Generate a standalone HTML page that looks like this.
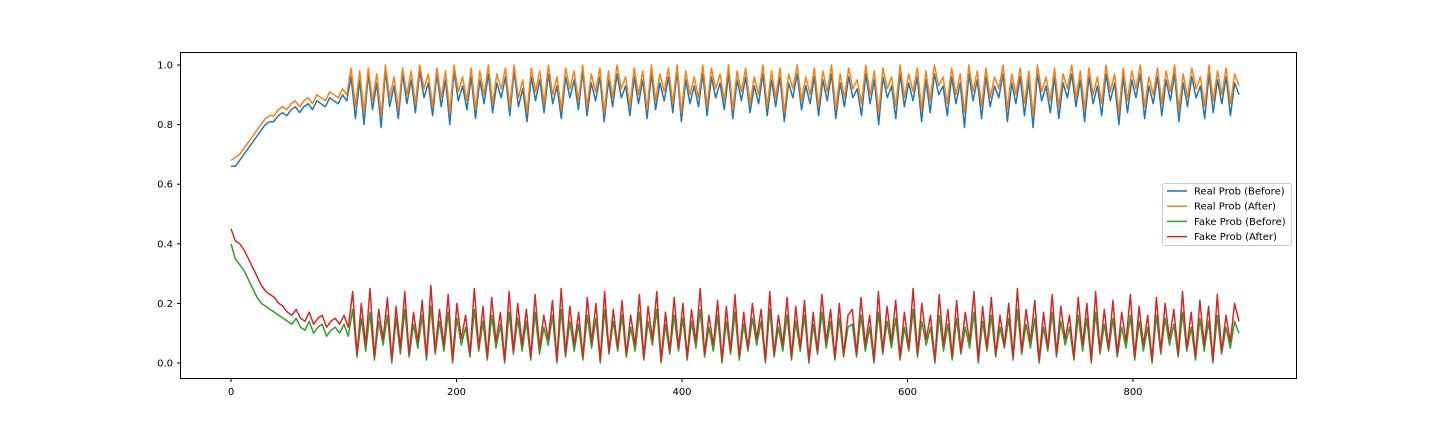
<!DOCTYPE html>
<html><head><meta charset="utf-8"><style>
html,body{margin:0;padding:0;background:#fff;}
svg{display:block;font-family:"DejaVu Sans","Liberation Sans",sans-serif;}
</style></head><body>
<svg id="chart" width="1440" height="432">
<rect x="180.5" y="52.5" width="1116" height="326" fill="none" stroke="#000" stroke-width="1"/>
<g id="ticks"></g>
<g id="lines"></g>
<g id="legend">
<rect x="1162.5" y="183.5" width="129" height="62" rx="2" fill="#fff" fill-opacity="0.8" stroke="#ccc"/>
</g>
</svg>
<script>
const realAfter=[68,69,70,72,74,76,78,80,82,83,83,85,86,85,87,88,86,88,89,87,90,89,88,91,90,89,92,90,
99,86,98,84,99,88,97,83,100,89,96,85,99,90,98,87,100,92,97,86,99,89,98,84,100,91,96,88,99,85,98,90,100,87,97,92,99,86,100,89,95,84,99,91,98,87,100,90,96,85,99,92,98,88,100,86,97,91,99,84,98,89,100,92,96,86,99,90,98,85,100,88,97,91,99,87,100,84,98,90,96,89,100,86,99,92,97,88,100,85,98,91,99,87,96,90,100,86,98,89,99,84,97,92,100,88,96,90,99,86,98,91,100,85,97,89,99,92,
95,87,100,90,98,84,99,92,96,86,100,89,97,91,99,85,98,88,100,93,96,87,99,90,97,84,100,91,98,86,99,89,96,92,100,85,97,90,99,87,98,83,100,91,96,88,99,86,97,92,100,89,98,85,99,90,96,87,100,91,97,84,99,88,98,92,100,86,96,90,99,87,98,91,100,85,97,89,99,92,96,86,100,88,98,90,99,87,97,93];
const realBefore=[66,66,68,70,72,74,76,78,80,81,81,83,84,83,85,86,84,86,87,85,88,87,86,89,88,87,90,88,
96,82,95,80,97,85,94,79,98,86,93,82,97,87,95,84,98,89,94,83,97,86,95,80,98,88,93,85,96,82,95,87,97,84,94,89,96,83,98,86,92,81,96,88,95,84,97,87,93,82,96,89,95,85,98,83,94,88,96,81,95,86,97,89,93,83,96,87,95,82,97,85,94,88,96,84,98,81,95,87,93,86,97,83,96,89,94,85,97,82,95,88,96,84,93,87,97,83,95,86,96,81,94,89,97,85,93,87,96,83,95,88,97,82,94,86,96,89,
92,83,97,87,95,80,96,89,93,82,97,86,94,88,96,81,95,84,97,90,93,83,96,87,94,79,97,88,95,82,96,86,93,89,97,81,94,87,96,83,95,79,97,88,93,84,96,82,94,89,97,86,95,81,96,87,93,83,97,88,94,80,96,84,95,89,97,82,93,87,96,83,95,88,97,81,94,86,96,89,93,82,97,84,95,87,96,83,94,90];
const fakeAfter=[45,41,40,38,35,32,29,26,24,23,22,20,19,17,16,18,15,14,17,13,15,16,12,14,15,13,16,12,
24,3,20,6,25,2,18,8,22,1,19,5,24,3,17,7,21,2,26,4,18,6,23,1,20,8,16,3,25,5,19,2,22,7,17,1,24,4,20,6,18,2,23,5,16,8,21,1,25,3,19,6,17,2,22,7,20,1,24,4,18,5,21,3,16,6,23,2,19,8,24,1,17,4,22,5,20,2,18,7,25,3,16,6,21,1,19,4,23,2,17,5,20,8,18,1,24,3,16,6,22,2,19,5,21,1,17,4,23,7,18,2,20,3,16,
18,3,22,6,16,1,24,4,19,7,21,2,17,5,25,3,20,8,16,1,23,6,18,2,21,4,17,7,24,1,19,5,22,3,16,6,20,2,25,4,18,7,21,1,17,5,23,3,19,8,16,2,22,6,20,1,24,4,18,5,21,3,17,7,23,2,19,6,16,1,22,4,20,8,18,3,24,5,17,2,21,6,19,1,23,4,16,7,20,14];
const fakeBefore=[40,35,33,31,28,25,22,20,19,18,17,16,15,14,13,15,12,11,14,10,12,13,9,11,12,10,13,9,
18,2,15,4,17,1,14,6,16,0,15,3,18,2,13,5,16,1,19,3,14,4,17,0,15,6,12,2,18,4,14,1,16,5,13,0,17,3,15,4,14,1,17,3,12,6,16,0,18,2,14,4,13,1,16,5,15,0,18,3,14,4,16,2,12,4,17,1,14,6,18,0,13,3,16,4,15,1,14,5,18,2,12,4,16,0,14,3,17,1,13,4,15,6,14,0,18,2,12,4,16,1,14,4,16,0,13,3,17,5,14,1,15,2,12,
13,2,16,4,12,0,17,3,14,5,15,1,12,4,18,2,14,6,12,0,16,4,13,1,15,3,12,5,17,0,14,4,16,2,12,5,15,1,18,3,13,5,15,0,12,4,17,2,14,6,12,1,16,4,15,0,17,3,13,4,15,2,12,5,16,1,14,4,12,0,16,3,15,6,13,2,17,4,12,1,15,4,14,0,16,3,12,5,14,10];
const xTicks=[0,200,400,600,800];
const yTicks=[0.0,0.2,0.4,0.6,0.8,1.0];
const seriesNames=["Real Prob (Before)","Real Prob (After)","Fake Prob (Before)","Fake Prob (After)"];
const xMax=894;

const NS="http://www.w3.org/2000/svg";
const X=v=>231+v*(1133-231)/800;
const Y=v=>363-v*(363-65);
function mk(t,a,p){const e=document.createElementNS(NS,t);for(const k in a)e.setAttribute(k,a[k]);p.appendChild(e);return e;}
const tg=document.getElementById('ticks');
xTicks.forEach(v=>{
  const l=mk('line',{x1:X(v),x2:X(v),y1:378.5,y2:382,stroke:'#000'},tg);
  
  
  const t=mk('text',{x:X(v),y:395,'font-size':10,'text-anchor':'middle'},tg);t.textContent=v;
  
  
});
yTicks.forEach(v=>{
  const l=mk('line',{x1:177,x2:180.5,y1:Y(v),y2:Y(v),stroke:'#000'},tg);
  
  
  const t=mk('text',{x:173,y:Y(v)+3.5,'font-size':10,'text-anchor':'end'},tg);t.textContent=v.toFixed(1);
  
  
});
const lg=document.getElementById('lines');
const series=[[realBefore,'#1f77b4'],[realAfter,'#ff7f0e'],[fakeBefore,'#2ca02c'],[fakeAfter,'#d62728']];
const names=['line-real-before','line-real-after','line-fake-before','line-fake-after'];
series.forEach(([d,c],k)=>{
  const step=xMax/(d.length-1);
  const pts=d.map((v,i)=>X(i*step).toFixed(1)+','+Y(v/100).toFixed(1)).join(' ');
  const p=mk('polyline',{points:pts,fill:'none',stroke:c,'stroke-width':1.5,'stroke-linejoin':'round'},lg);
  
  
});
const leg=document.getElementById('legend');
seriesNames.forEach((n,i)=>{
  const y=191+i*15.2;
  const l=mk('line',{x1:1167,x2:1187,y1:y,y2:y,stroke:series[i][1],'stroke-width':1.5},leg);
  
  
  const t=mk('text',{x:1194,y:y+3.5,'font-size':10},leg);t.textContent=n;
  
  
});
</script>
</body></html>
